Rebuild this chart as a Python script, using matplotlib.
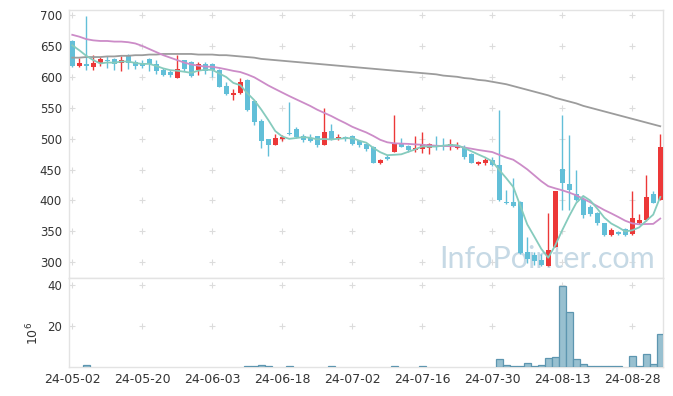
import numpy as np
import pandas as pd
import matplotlib
matplotlib.use('Agg')
import matplotlib.pyplot as plt

# Daily prices, 85 trading days starting 24-05-02
open_ = [658, 617, 621, 616, 622, 627, 629, 623, 634, 624,
         622, 629, 621, 611, 608, 598, 627, 624, 611, 621,
         621, 611, 585, 570, 573, 595, 561, 528, 499, 490,
         499, 509, 516, 504, 501, 504, 490, 512, 500, 502,
         505, 496, 491, 487, 461, 470, 479, 493, 488, 481,
         483, 485, 490, 489, 487, 484, 487, 475, 459, 461,
         466, 457, 398, 398, 398, 317, 311, 303, 294, 325,
         451, 426, 411, 403, 390, 380, 363, 344, 349, 353,
         345, 363, 368, 411, 400]
high = [659, 630, 698, 636, 632, 633, 631, 634, 637, 627,
        627, 631, 627, 614, 611, 635, 628, 626, 624, 624,
        623, 613, 591, 580, 598, 597, 563, 531, 500, 508,
        506, 559, 518, 507, 508, 505, 550, 524, 508, 505,
        506, 497, 492, 488, 467, 473, 538, 501, 489, 504,
        510, 493, 505, 501, 500, 494, 490, 476, 464, 469,
        471, 546, 417, 436, 399, 341, 316, 313, 380, 416,
        538, 506, 449, 405, 392, 382, 364, 355, 351, 355,
        415, 378, 441, 416, 508]
low = [616, 616, 611, 611, 618, 615, 611, 610, 612, 612,
       614, 610, 605, 602, 600, 598, 610, 600, 603, 605,
       599, 583, 570, 562, 572, 545, 522, 484, 472, 489,
       496, 506, 501, 495, 494, 487, 490, 498, 497, 496,
       490, 487, 480, 460, 459, 465, 478, 486, 479, 479,
       477, 475, 481, 481, 482, 483, 467, 460, 457, 458,
       456, 399, 394, 390, 313, 298, 296, 294, 294, 324,
       384, 385, 399, 372, 374, 360, 342, 342, 344, 343,
       344, 361, 366, 395, 400]
close = [617, 622, 617, 623, 629, 625, 620, 627, 623, 617,
         617, 621, 610, 603, 603, 612, 613, 601, 621, 610,
         611, 584, 572, 574, 591, 547, 527, 496, 490, 501,
         503, 508, 503, 497, 496, 490, 511, 499, 503, 500,
         491, 490, 483, 461, 465, 467, 493, 487, 481, 485,
         491, 491, 488, 488, 491, 488, 470, 461, 462, 466,
         457, 400, 395, 391, 315, 305, 302, 295, 319, 415,
         428, 417, 400, 376, 378, 363, 344, 352, 346, 344,
         372, 368, 405, 396, 487]

# volume in 10^6 shares
volume = [0, 0, 1.2, 0, 0, 0, 0, 0, 0, 0,
          0, 0, 0, 0, 0, 0, 0, 0, 0, 0,
          0, 0, 0, 0, 0, 0.5, 0.6, 1.0, 0.5, 0,
          0, 0.5, 0, 0, 0, 0, 0, 0.5, 0, 0,
          0, 0, 0, 0, 0, 0, 0.5, 0, 0, 0,
          0.5, 0, 0, 0, 0, 0, 0, 0, 0, 0,
          0, 4.1, 1.0, 0.5, 0.5, 2.0, 0.5, 1.0, 4.4, 4.9,
          39.2, 26.7, 4.1, 1.6, 0.5, 0.5, 0.5, 0.5, 0.5, 0,
          5.5, 0.5, 6.5, 1.6, 16.1]

# moving averages: values before the window can't be computed from visible data
ma5_head = [651, 643, 634, 627]
ma20_head = [668, 665, 661, 659, 658, 658, 657, 657, 656, 654,
             650, 645, 640, 635, 631, 627, 623, 620, 618]
ma120 = [631, 631, 632, 632, 632, 633, 633, 634, 634, 635,
         635, 636, 636, 637, 637, 637, 637, 637, 636, 636,
         636, 635, 635, 634, 633, 632, 631, 629, 628, 627,
         626, 625, 624, 623, 622, 621, 620, 619, 618, 617,
         616, 615, 614, 613, 612, 611, 610, 609, 608, 607,
         606, 605, 604, 602, 601, 600, 598, 597, 595, 594,
         592, 590, 588, 585, 582, 579, 576, 573, 570, 566,
         563, 560, 557, 553, 550, 547, 544, 541, 538, 535,
         532, 529, 526, 523, 520]

tick_labels = ['24-05-02', '24-05-20', '24-06-03', '24-06-18', '24-07-02',
               '24-07-16', '24-07-30', '24-08-13', '24-08-28']
price_ticks = [300, 350, 400, 450, 500, 550, 600, 650, 700]
vol_ticks = [20, 40]

df = pd.DataFrame({'open': open_, 'high': high, 'low': low,
                   'close': close, 'volume': volume})
x = np.arange(len(df))
df['ma5'] = df['close'].rolling(5).mean()
df.loc[:3, 'ma5'] = ma5_head
df['ma20'] = df['close'].rolling(20).mean()
df.loc[:18, 'ma20'] = ma20_head
df['ma120'] = ma120

RED = '#ec3838'
BLUE = '#62bfd8'
TXT = '#333333'
FRAME = '#e3e3e3'

fig = plt.figure(figsize=(6.73, 3.96), dpi=100)
ax1 = fig.add_axes([0.1025, 0.2992, 0.8826, 0.6755])
ax2 = fig.add_axes([0.1025, 0.0732, 0.8826, 0.2248], sharex=ax1)

# candles
up = df['close'] >= df['open']
colors = np.where(up, RED, BLUE)
body_lo = np.minimum(df['open'], df['close'])
body_h = np.maximum(np.abs(df['close'] - df['open']), 1.5)
ax1.vlines(x, df['low'], df['high'], colors=colors, linewidth=1, zorder=3)
ax1.bar(x, body_h, bottom=body_lo, width=0.72, color=colors, linewidth=0, zorder=3)

# moving averages
ax1.plot(x, df['ma120'], color='#9c9c9c', linewidth=1.3, zorder=4)
ax1.plot(x, df['ma20'], color='#cc8cc8', linewidth=1.3, zorder=4)
ax1.plot(x, df['ma5'], color='#86cbbd', linewidth=1.3, zorder=4)

ax1.text(0.9865, 0.036, 'InfoPointer.com', transform=ax1.transAxes,
         ha='right', va='baseline', fontsize=22, family='Lato',
         color='#c6d9e5', zorder=1)

# volume
m = df['volume'] > 0
ax2.bar(x[m], df['volume'][m], width=1.0, color='#98c0d0',
        edgecolor='#5d96b0', linewidth=0.9, zorder=3)

# grid drawn as small crosses
xt = np.arange(0, len(df), 10)
gx, gy = np.meshgrid(xt, price_ticks)
ax1.scatter(gx.ravel(), gy.ravel(), marker='+', s=18, color='#dcdcdc',
            linewidths=0.8, zorder=0)
gx, gy = np.meshgrid(xt, vol_ticks)
ax2.scatter(gx.ravel(), gy.ravel(), marker='+', s=18, color='#dcdcdc',
            linewidths=0.8, zorder=0)

ax1.set_xlim(-0.47, 84.39)
ax1.set_ylim(275.2, 708.1)
ax2.set_ylim(0, 43.2)

ax1.set_yticks(price_ticks)
ax2.set_yticks(vol_ticks)
ax2.set_xticks(xt)
ax2.set_xticklabels(tick_labels)
ax1.tick_params(axis='x', labelbottom=False, length=0)
ax1.tick_params(axis='y', length=0, pad=5, labelsize=8.5, labelcolor=TXT)
ax2.tick_params(axis='x', length=0, pad=4, labelsize=9, labelcolor=TXT)
ax2.tick_params(axis='y', length=0, pad=5, labelsize=8.5, labelcolor=TXT)

for ax in (ax1, ax2):
    for s in ax.spines.values():
        s.set_color(FRAME)
        s.set_linewidth(1)

fig.text(33 / 673, 1 - 333 / 396, '$10^6$', rotation=90, ha='center',
         va='center', fontsize=9, color=TXT)

plt.savefig('out.png', dpi=100)
